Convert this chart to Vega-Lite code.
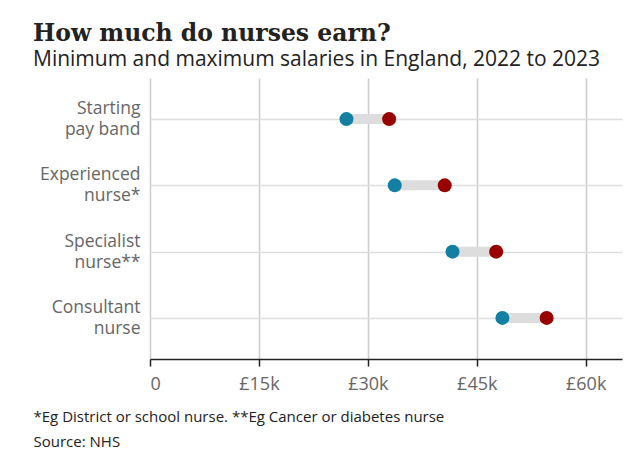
{
  "$schema": "https://vega.github.io/schema/vega-lite/v6.json",
  "width": 472,
  "height": 281,
  "padding": {"left": 33, "top": 21, "right": 18, "bottom": 10},
  "background": "white",
  "title": {
    "text": "How much do nurses earn?",
    "subtitle": "Minimum and maximum salaries in England, 2022 to 2023",
    "anchor": "start",
    "frame": "bounds",
    "font": "DejaVu Serif",
    "fontSize": 23.5,
    "fontWeight": "bold",
    "color": "#222222",
    "subtitleFont": "Open Sans",
    "subtitleFontSize": 21,
    "subtitleColor": "#222222",
    "subtitlePadding": 4,
    "offset": 8
  },
  "data": {
    "values": [
      {"role": "Starting pay band", "min": 27055, "max": 32934},
      {"role": "Experienced nurse*", "min": 33706, "max": 40588},
      {"role": "Specialist nurse**", "min": 41659, "max": 47672},
      {"role": "Consultant nurse", "min": 48526, "max": 54619}
    ]
  },
  "encoding": {
    "y": {
      "field": "role",
      "type": "nominal",
      "sort": null,
      "scale": {"type": "point", "padding": 0.62},
      "axis": {
        "title": null,
        "domain": false,
        "ticks": false,
        "grid": true,
        "gridColor": "#dddddd",
        "gridWidth": 1.5,
        "labelFont": "Open Sans",
        "labelFontSize": 17.5,
        "labelColor": "#666666",
        "labelPadding": 10,
        "labelLineHeight": 21,
        "labelBaseline": "middle",
        "labelOffset": -10.5,
        "labelExpr": "[substring(datum.value, 0, indexof(datum.value, ' ')), substring(datum.value, indexof(datum.value, ' ') + 1)]"
      }
    }
  },
  "layer": [
    {
      "mark": {"type": "rule", "strokeWidth": 10, "color": "#dddddd"},
      "encoding": {
        "x": {
          "field": "min",
          "type": "quantitative",
          "scale": {"domain": [0, 65000], "nice": false},
          "axis": {
            "values": [0, 15000, 30000, 45000, 60000],
            "labelExpr": "datum.value == 0 ? '0' : '£' + (datum.value / 1000) + 'k'",
            "labelFont": "Open Sans",
            "labelFontSize": 18,
            "labelColor": "#666666",
            "labelPadding": 9,
            "domainColor": "#222222",
            "domainWidth": 1.5,
            "tickColor": "#222222",
            "tickWidth": 1.5,
            "tickSize": 7,
            "grid": true,
            "gridColor": "#cccccc",
            "gridWidth": 1.5,
            "title": ["*Eg District or school nurse. **Eg Cancer or diabetes nurse", "Source: NHS"],
            "titleFont": "Open Sans",
            "titleFontSize": 15,
            "titleFontWeight": "normal",
            "titleColor": "#222222",
            "titleAnchor": "start",
            "titleAlign": "left",
            "titleX": -117,
            "titleY": 50,
            "titleLineHeight": 25
          }
        },
        "x2": {"field": "max"}
      }
    },
    {
      "mark": {"type": "point", "shape": "circle", "filled": true, "size": 196, "opacity": 1, "color": "#1380A1"},
      "encoding": {"x": {"field": "min", "type": "quantitative"}}
    },
    {
      "mark": {"type": "point", "shape": "circle", "filled": true, "size": 196, "opacity": 1, "color": "#990000"},
      "encoding": {"x": {"field": "max", "type": "quantitative"}}
    }
  ],
  "config": {"view": {"stroke": null}}
}
